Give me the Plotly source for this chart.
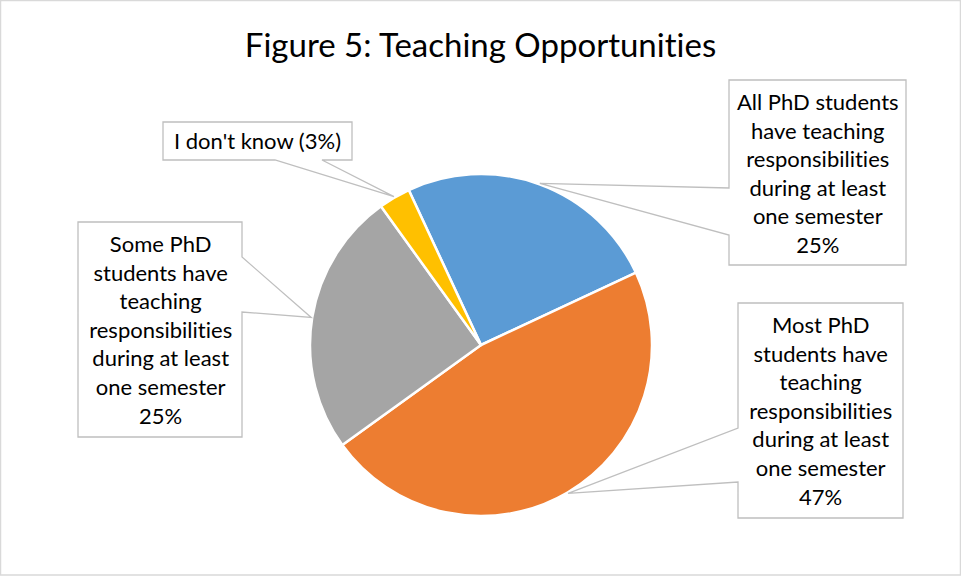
import math
import plotly.graph_objects as go

# ---------------- data ----------------
categories = [
    "All PhD students have teaching responsibilities during at least one semester",
    "Most PhD students have teaching responsibilities during at least one semester",
    "Some PhD students have teaching responsibilities during at least one semester",
    "I don't know",
]
label_lines = [
    ["All PhD students", "have teaching", "responsibilities", "during at least", "one semester"],
    ["Most PhD", "students have", "teaching", "responsibilities", "during at least", "one semester"],
    ["Some PhD", "students have", "teaching", "responsibilities", "during at least", "one semester"],
    ["I don't know"],
]
values = [25, 47, 25, 3]
colors = ["#5B9BD5", "#ED7D31", "#A5A5A5", "#FFC000"]
title_text = "Figure 5: Teaching Opportunities"

# ---------------- layout constants (pixels) ----------------
W, H = 961, 576
FONT = "Lato"
ROTATION = -25
PIE_LEFT, PIE_RIGHT, PIE_TOP, PIE_BOTTOM = 310, 652, 174, 516

# label boxes: (x0, y0, x1, y1), side of wedge, wedge base (two coords along that side)
boxes = [
    ((729, 80, 906, 265), "left", (188, 235)),
    ((738, 303, 903, 518), "left", (428, 482)),
    ((78, 222, 242, 437), "right", (257, 312)),
    ((163, 122, 352, 160), "bottom", (275, 322)),
]


def px(x):
    return x / W


def py(y):
    return 1 - y / H


cx = (PIE_LEFT + PIE_RIGHT) / 2
cy = (PIE_TOP + PIE_BOTTOM) / 2
r = min(PIE_RIGHT - PIE_LEFT, PIE_BOTTOM - PIE_TOP) / 2

total = sum(values)

fig = go.Figure(
    go.Pie(
        labels=categories,
        values=values,
        sort=False,
        direction="clockwise",
        rotation=ROTATION,
        marker=dict(colors=colors, line=dict(color="white", width=2.5)),
        textinfo="none",
        hoverinfo="label+percent",
        showlegend=False,
        domain=dict(x=[px(PIE_LEFT), px(PIE_RIGHT)], y=[py(PIE_BOTTOM), py(PIE_TOP)]),
    )
)

shapes = []
annotations = []
cum = 0
for i, v in enumerate(values):
    mid = ROTATION + (cum + v / 2) / total * 360
    cum += v
    a = math.radians(mid)
    tx = cx + (r + 1) * math.sin(a)
    ty = cy - (r + 1) * math.cos(a)
    (x0, y0, x1, y1), side, (b1, b2) = boxes[i]
    if side == "left":
        pts = [(x0, y0), (x1, y0), (x1, y1), (x0, y1), (x0, b2), (tx, ty), (x0, b1)]
    elif side == "right":
        pts = [(x0, y0), (x1, y0), (x1, b1), (tx, ty), (x1, b2), (x1, y1), (x0, y1)]
    else:  # bottom
        pts = [(x0, y0), (x1, y0), (x1, y1), (b2, y1), (tx, ty), (b1, y1), (x0, y1)]
    path = "M " + " L ".join(f"{px(p[0]):.5f},{py(p[1]):.5f}" for p in pts) + " Z"
    shapes.append(
        dict(
            type="path",
            xref="paper",
            yref="paper",
            path=path,
            line=dict(color="#BFBFBF", width=1.3),
            fillcolor="white",
            layer="above",
        )
    )
    pct = f"{v / total * 100:.0f}%"
    if len(label_lines[i]) == 1:
        text = f"{label_lines[i][0]} ({pct})"
    else:
        text = "<br>".join(label_lines[i] + [pct])
    annotations.append(
        dict(
            x=px((x0 + x1) / 2),
            y=py((y0 + y1) / 2),
            xref="paper",
            yref="paper",
            xanchor="center",
            yanchor="middle",
            text=text,
            showarrow=False,
            align="center",
            font=dict(family=FONT, size=22, color="#000000"),
        )
    )

# chart outer border
shapes.append(
    dict(
        type="rect",
        xref="paper",
        yref="paper",
        x0=px(0.5),
        x1=px(W - 0.5),
        y0=py(H - 1),
        y1=py(0.5),
        line=dict(color="#D9D9D9", width=1.5),
        fillcolor="rgba(0,0,0,0)",
        layer="below",
    )
)

fig.update_layout(
    width=W,
    height=H,
    margin=dict(l=0, r=0, t=0, b=0),
    paper_bgcolor="white",
    plot_bgcolor="white",
    title=dict(
        text=title_text,
        x=0.5,
        xanchor="center",
        y=py(45),
        yanchor="middle",
        yref="container",
        font=dict(family=FONT, size=33, color="#000000"),
    ),
    shapes=shapes,
    annotations=annotations,
)

no_ligatures = (
    "var s=document.createElement('style');"
    "s.innerHTML='text{font-variant-ligatures:none !important;font-feature-settings:\"liga\" 0 !important;}';"
    "document.head.appendChild(s);"
)

fig.write_html("out.html", post_script=no_ligatures)
